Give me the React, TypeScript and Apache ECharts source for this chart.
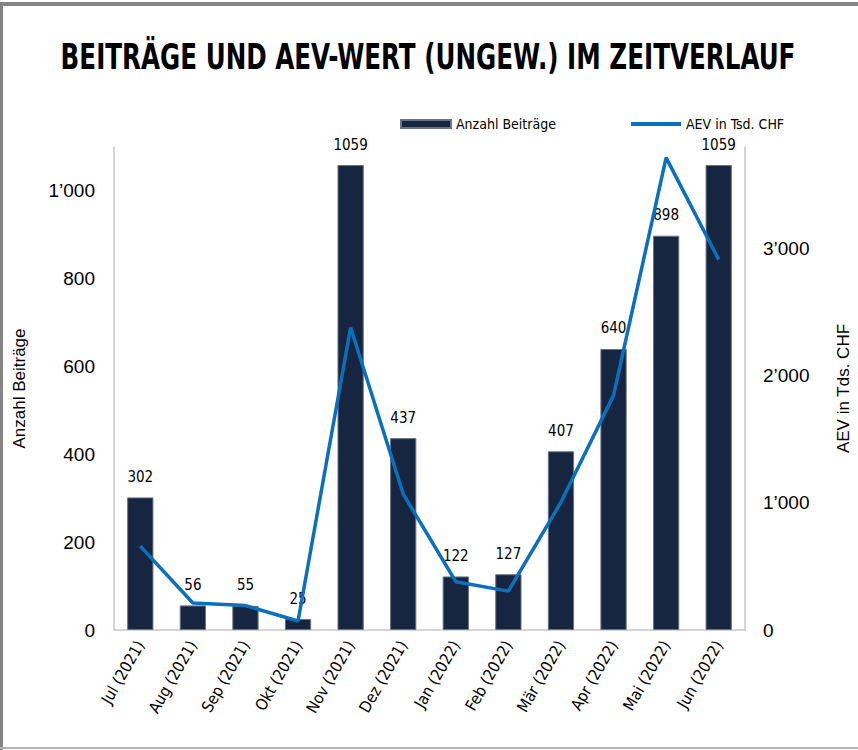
import React, { useEffect, useRef } from "react";
import * as echarts from "echarts";

const categories = [
  "Jul (2021)", "Aug (2021)", "Sep (2021)", "Okt (2021)", "Nov (2021)", "Dez (2021)",
  "Jan (2022)", "Feb (2022)", "Mär (2022)", "Apr (2022)", "Mai (2022)", "Jun (2022)",
];
const beitraege = [302, 56, 55, 25, 1059, 437, 122, 127, 407, 640, 898, 1059];
const aev = [660, 212, 192, 71, 2380, 1070, 380, 306, 1005, 1846, 3716, 2914];

const titleText = "BEITRÄGE UND AEV-WERT (UNGEW.) IM ZEITVERLAUF";
const barName = "Anzahl Beiträge";
const lineName = "AEV in Tsd. CHF";
const rightAxisName = "AEV in Tds. CHF";

const fmt = (v: number) => {
  const s = String(Math.round(v));
  return s.replace(/\B(?=(\d{3})+(?!\d))/g, "\u2019");
};

const narrow = "'DejaVu Sans Condensed', 'Liberation Sans', sans-serif";
const sans = "'Liberation Sans', Arial, sans-serif";

export default function App() {
  const ref = useRef<HTMLDivElement>(null);
  useEffect(() => {
    document.body.style.margin = "0";
    const chart = echarts.init(ref.current!, null, { renderer: "svg" });
    chart.setOption({
      animation: false,
      backgroundColor: "#ffffff",
      graphic: [
        {
          type: "text",
          x: 428,
          y: 57,
          scaleX: 0.76,
          style: {
            text: titleText,
            textAlign: "center",
            textVerticalAlign: "middle",
            fontFamily: narrow,
            fontWeight: "bold",
            fontSize: 36,
            fill: "#000",
          },
        },
      ],
      legend: [
        {
          left: 395,
          top: 112,
          data: [barName],
          icon: "rect",
          itemWidth: 50,
          itemHeight: 8,
          itemGap: 7,
          textStyle: { fontFamily: narrow, fontSize: 14, color: "#000" },
        },
        {
          left: 626,
          top: 112,
          data: [lineName],
          icon: "rect",
          itemWidth: 50,
          itemHeight: 4,
          textStyle: { fontFamily: narrow, fontSize: 14, color: "#000" },
        },
      ],
      grid: { left: 114, right: 113, top: 147, bottom: 120, containLabel: false, outerBoundsMode: "none" },
      xAxis: {
        type: "category",
        data: categories,
        axisLine: { show: true, lineStyle: { color: "#c8c8c8", width: 1.5 } },
        axisTick: { show: false },
        axisLabel: {
          rotate: 60,
          interval: 0,
          margin: 12,
          fontFamily: narrow,
          fontSize: 16,
          color: "#000",
        },
      },
      yAxis: [
        {
          type: "value",
          min: 0,
          max: 1100,
          interval: 200,
          name: barName,
          nameLocation: "middle",
          nameRotate: 90,
          nameGap: 86,
          nameTextStyle: { fontFamily: sans, fontSize: 17, color: "#000" },
          splitLine: { show: false },
          axisLine: { show: true, lineStyle: { color: "#c8c8c8", width: 1.5 } },
          axisTick: { show: false },
          axisLabel: {
            margin: 19,
            fontFamily: sans,
            fontSize: 19,
            color: "#000",
            showMaxLabel: false,
            formatter: (v: number) => (v % 200 === 0 ? fmt(v) : ""),
          },
        },
        {
          type: "value",
          min: 0,
          max: 3800,
          interval: 1000,
          name: rightAxisName,
          nameLocation: "middle",
          nameRotate: 90,
          nameGap: 90,
          nameTextStyle: { fontFamily: sans, fontSize: 17, color: "#000" },
          splitLine: { show: false },
          axisLine: { show: true, lineStyle: { color: "#c8c8c8", width: 1.5 } },
          axisTick: { show: false },
          axisLabel: {
            margin: 18,
            fontFamily: sans,
            fontSize: 19,
            color: "#000",
            showMaxLabel: false,
            formatter: (v: number) => (v % 1000 === 0 ? fmt(v) : ""),
          },
        },
      ],
      series: [
        {
          name: barName,
          type: "bar",
          data: beitraege,
          barWidth: "50%",
          itemStyle: { color: "#172640", borderColor: "#6b7486", borderWidth: 1 },
          label: {
            show: true,
            position: "top",
            distance: 13,
            fontFamily: narrow,
            fontSize: 15,
            color: "#000",
          },
        },
        {
          name: lineName,
          type: "line",
          yAxisIndex: 1,
          data: aev,
          symbol: "none",
          lineStyle: { color: "#0a70bd", width: 3.5 },
          itemStyle: { color: "#0a70bd" },
          z: 5,
        },
      ],
    });
    return () => chart.dispose();
  }, []);
  return (
    <div style={{ position: "absolute", left: 0, top: 0, width: 858, height: 750 }}>
      <div ref={ref} style={{ position: "absolute", left: 0, top: 0, width: 858, height: 750 }} />
      <div style={{ position: "absolute", left: 0, top: 2, width: 858, height: 4, background: "#848484" }} />
      <div style={{ position: "absolute", left: 0, top: 2, width: 3, height: 748, background: "#848484" }} />
      <div style={{ position: "absolute", left: 0, top: 747, width: 858, height: 2, background: "#b0b0b0" }} />
    </div>
  );
}
